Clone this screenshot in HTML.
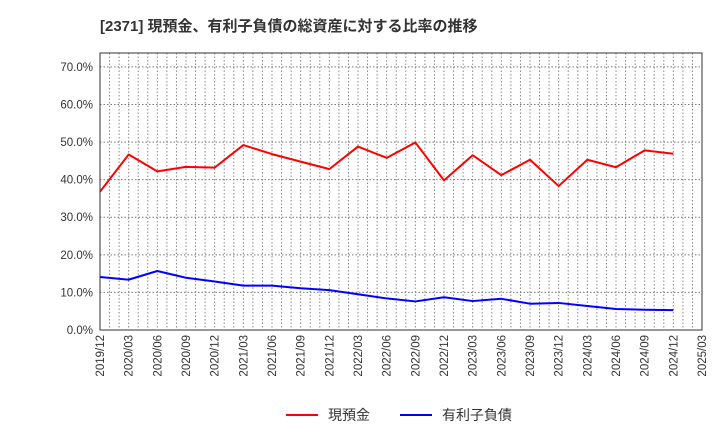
<!DOCTYPE html>
<html><head><meta charset="utf-8"><style>
body{margin:0;background:#fff;font-family:"Liberation Sans","Noto Sans CJK JP",sans-serif;}
</style></head><body>
<svg width="720" height="440" xmlns="http://www.w3.org/2000/svg" style="font-family:'Liberation Sans','Noto Sans CJK JP',sans-serif">
<text x="100" y="31" font-size="15" font-weight="bold" fill="#333">[2371]  現預金、有利子負債の総資産に対する比率の推移</text>
<g id="grid"></g><g id="axes"></g><g id="series"></g>
<g>
<line x1="286" y1="415" x2="318" y2="415" stroke="#f00" stroke-width="2"/>
<text x="328" y="420" font-size="14" fill="#333">現預金</text>
<line x1="400" y1="415" x2="432" y2="415" stroke="#00f" stroke-width="2"/>
<text x="442" y="420" font-size="14" fill="#333">有利子負債</text>
</g>
</svg>
<script>
const categories=["2019/12","2020/03","2020/06","2020/09","2020/12","2021/03","2021/06","2021/09","2021/12","2022/03","2022/06","2022/09","2022/12","2023/03","2023/06","2023/09","2023/12","2024/03","2024/06","2024/09","2024/12","2025/03"];
const cashValues=[36.8,46.7,42.2,43.4,43.2,49.2,46.8,44.8,42.8,48.8,45.8,49.9,39.8,46.5,41.2,45.3,38.3,45.3,43.3,47.8,46.9];
const debtValues=[14.1,13.4,15.7,13.9,12.9,11.8,11.8,11.1,10.6,9.5,8.4,7.6,8.7,7.7,8.3,7.0,7.2,6.4,5.6,5.4,5.3];
const yTicks=[0,10,20,30,40,50,60,70];
const L=100,R=702,T=53,B=330,yMax=73.7;
const NS="http://www.w3.org/2000/svg";
const xs=i=>L+i*(R-L)/(categories.length-1);
const ys=v=>B-v/yMax*(B-T);
function mk(tag,attrs,parent){const e=document.createElementNS(NS,tag);for(const k in attrs)e.setAttribute(k,attrs[k]);parent.appendChild(e);return e;}
const grid=document.getElementById('grid'),axes=document.getElementById('axes'),ser=document.getElementById('series');
const months=(categories.length-1)*3;
for(let m=1;m<months;m++){const x=L+m*(R-L)/months;const l=mk('line',{x1:x,x2:x,y1:T,y2:B,stroke:'#888','stroke-dasharray':'1.5,2','stroke-width':1},grid);

}
yTicks.forEach(v=>{const y=ys(v);
if(v>0){const g=mk('line',{x1:L,x2:R,y1:y,y2:y,stroke:'#777','stroke-dasharray':'1.5,2','stroke-width':1},grid);

}
const t=mk('text',{x:L-7,y:y+4,'text-anchor':'end','font-size':11.5,fill:'#333'},axes);t.textContent=v.toFixed(1)+'%';

});
const frame=mk('rect',{x:L,y:T,width:R-L,height:B-T,fill:'none',stroke:'#333','stroke-width':1},axes);


categories.forEach((c,i)=>{const x=xs(i);const t=mk('text',{transform:`translate(${x+4},${B+5}) rotate(-90)`,'text-anchor':'end','font-size':11.5,fill:'#333'},axes);t.textContent=c;

});
function line(vals,color,name){const p=mk('polyline',{points:vals.map((v,i)=>xs(i)+','+ys(v)).join(' '),fill:'none',stroke:color,'stroke-width':2,'stroke-linejoin':'round'},ser);

}
line(cashValues,'#f00','cash-line');
line(debtValues,'#00f','debt-line');
</script>
</body></html>
